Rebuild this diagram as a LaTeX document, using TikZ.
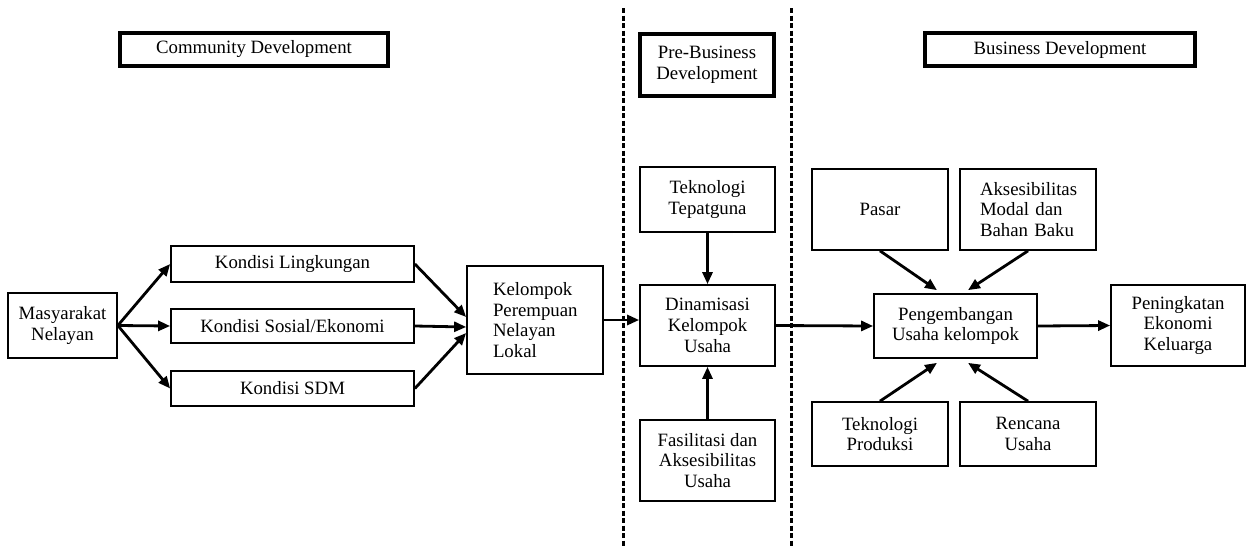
\documentclass[tikz,border=0pt]{standalone}
\usepackage{fontspec}
\setmainfont{Liberation Serif}
\usetikzlibrary{arrows.meta}
\begin{document}
\begin{tikzpicture}[x=1pt,y=-1pt,
  box/.style={draw, line width=1.7pt, inner sep=0pt, align=center, font=\fontsize{18.8}{20.7}\selectfont},
  titlebox/.style={box, line width=4pt},
  arr/.style={line width=2.8pt, -{Triangle[length=12pt,width=10pt]}},
  sepline/.style={line width=3pt, dash pattern=on 5pt off 2.5pt}]
\useasboundingbox (0,0) rectangle (1246,546);
% section separators
\coordinate (d1t) at (623,8);
\coordinate (d1b) at (623,546);
\coordinate (d2t) at (791,8);
\coordinate (d2b) at (791,546);
\draw[sepline] (d1t) -- (d1b);
\draw[sepline] (d2t) -- (d2b);
% titles
\node[titlebox, minimum width=268pt, minimum height=32.5pt] (comm) at (254,49.5) {Community Development};
\node[titlebox, minimum width=134pt, minimum height=62pt] (pre) at (707,65) {Pre-Business\\Development};
\node[titlebox, minimum width=270pt, minimum height=33pt] (bus) at (1060,49.5) {Business Development};
% community part
\node[box, minimum width=109pt, minimum height=65pt] (mas) at (62.5,325.5) {Masyarakat\\Nelayan};
\node[box, minimum width=243pt, minimum height=36pt] (kl) at (292.5,264) {Kondisi Lingkungan};
\node[box, minimum width=243pt, minimum height=34pt] (ks) at (292.5,326) {Kondisi Sosial/Ekonomi};
\node[box, minimum width=243pt, minimum height=35pt] (ksdm) at (292.5,388.5) {Kondisi SDM};
\node[box, minimum width=136pt, minimum height=108pt, text width=84pt, align=left] (kel) at (535,320) {Kelompok\\Perempuan\\Nelayan\\Lokal};
% pre-business part
\node[box, minimum width=135pt, minimum height=65pt] (tt) at (707.5,199.5) {Teknologi\\Tepatguna};
\node[box, minimum width=135pt, minimum height=81pt] (din) at (707.5,325.5) {Dinamisasi\\Kelompok\\Usaha};
\node[box, minimum width=135pt, minimum height=81pt] (fas) at (707.5,460.5) {Fasilitasi dan\\Aksesibilitas\\Usaha};
% business part
\node[box, minimum width=136pt, minimum height=81pt] (pasar) at (880,209.5) {Pasar};
\node[box, minimum width=136pt, minimum height=81pt, text width=96pt, align=left] (aks) at (1028,209.5) {Aksesibilitas\\Modal dan\\Bahan Baku};
\node[box, minimum width=163pt, minimum height=64pt] (peng) at (955.5,326) {Pengembangan\\Usaha kelompok};
\node[box, minimum width=134pt, minimum height=81pt] (pen) at (1178,325.5) {Peningkatan\\Ekonomi\\Keluarga};
\node[box, minimum width=136pt, minimum height=64pt] (tp) at (880,434) {Teknologi\\Produksi};
\node[box, minimum width=136pt, minimum height=64pt] (ru) at (1028,434) {Rencana\\Usaha};
% connectors
\draw[arr] (mas.east) -- (kl.west);
\draw[arr] (mas.east) -- (ks.west);
\draw[arr] (mas.east) -- (ksdm.west);
\draw[arr] (kl.east) -- ([yshift=3pt]kel.west);
\draw[arr] (ks.east) -- ([yshift=-7pt]kel.west);
\draw[arr] (ksdm.east) -- ([yshift=-13pt]kel.west);
\draw[arr] (kel.east) -- (kel.east -| din.west);
\draw[arr] (tt.south) -- (din.north);
\draw[arr] (fas.north) -- (din.south);
\draw[arr] (din.east) -- (peng.west);
\draw[arr] (pasar.south) -- ([xshift=-18.5pt,yshift=3pt]peng.north);
\draw[arr] (aks.south) -- ([xshift=12.5pt,yshift=3pt]peng.north);
\draw[arr] (tp.north) -- ([xshift=-18.5pt,yshift=-4pt]peng.south);
\draw[arr] (ru.north) -- ([xshift=12.5pt,yshift=-4pt]peng.south);
\draw[arr] (peng.east) -- (pen.west);
\end{tikzpicture}
\end{document}
